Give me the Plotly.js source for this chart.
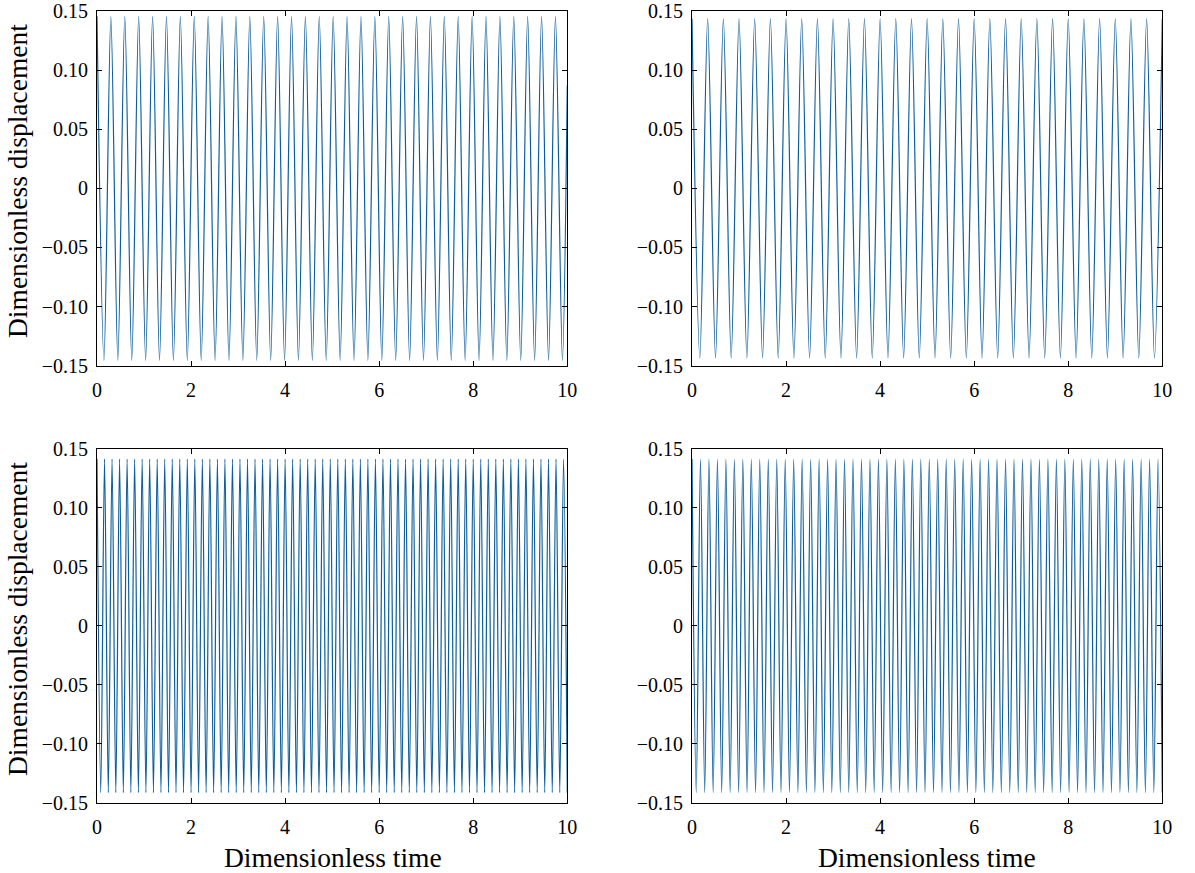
<!DOCTYPE html>
<html>
<head>
<meta charset="utf-8">
<script src="https://cdn.plot.ly/plotly-3.0.1.min.js"></script>
<style>html,body{margin:0;padding:0;background:#fff;}#chart{width:1195px;height:873px;}</style>
</head>
<body>
<div id="chart"></div>
<script>
// ---- data (peak / trough instants and values) ----
const xTicks = [0, 2, 4, 6, 8, 10];
const yTicks = [-0.15, -0.10, -0.05, 0, 0.05, 0.10, 0.15];
const yTickText = ['\u22120.15', '\u22120.10', '\u22120.05', '0', '0.05', '0.10', '0.15'];
const xTitle = 'Dimensionless time';
const yTitle = 'Dimensionless displacement';

// top-left panel
const tlTime = [0,0.148,0.295,0.443,0.591,0.739,0.886,1.034,1.182,1.329,
  1.477,1.625,1.772,1.920,2.068,2.216,2.363,2.511,2.659,2.806,
  2.954,3.102,3.249,3.397,3.545,3.693,3.840,3.988,4.136,4.283,
  4.431,4.579,4.726,4.874,5.022,5.170,5.317,5.465,5.613,5.760,
  5.908,6.056,6.203,6.351,6.499,6.647,6.794,6.942,7.090,7.237,
  7.385,7.533,7.680,7.828,7.976,8.124,8.271,8.419,8.567,8.714,
  8.862,9.010,9.157,9.305,9.453,9.601,9.748,9.896,10.0];
const tlDisp = [0.1455,-0.1455,0.1455,-0.1455,0.1455,-0.1455,0.1455,-0.1455,0.1455,-0.1455,
  0.1455,-0.1455,0.1455,-0.1455,0.1455,-0.1455,0.1455,-0.1455,0.1455,-0.1455,
  0.1455,-0.1455,0.1455,-0.1455,0.1455,-0.1455,0.1455,-0.1455,0.1455,-0.1455,
  0.1455,-0.1455,0.1455,-0.1455,0.1455,-0.1455,0.1455,-0.1455,0.1455,-0.1455,
  0.1455,-0.1455,0.1455,-0.1455,0.1455,-0.1455,0.1455,-0.1455,0.1455,-0.1455,
  0.1455,-0.1455,0.1455,-0.1455,0.1455,-0.1455,0.1455,-0.1455,0.1455,-0.1455,
  0.1455,-0.1455,0.1455,-0.1455,0.1455,-0.1455,0.1455,-0.1455,0.087];

// top-right panel
const trTime = [0,0.167,0.333,0.5,0.667,0.833,1,1.167,1.333,1.5,
  1.667,1.833,2,2.167,2.333,2.5,2.667,2.833,3,3.167,
  3.333,3.5,3.667,3.833,4,4.167,4.333,4.5,4.667,4.833,
  5,5.167,5.333,5.5,5.667,5.833,6,6.167,6.333,6.5,
  6.667,6.833,7,7.167,7.333,7.5,7.667,7.833,8,8.167,
  8.333,8.5,8.667,8.833,9,9.167,9.333,9.5,9.667,9.833,10];
const trDisp = [0.1435,-0.1435,0.1435,-0.1435,0.1435,-0.1435,0.1435,-0.1435,0.1435,-0.1435,
  0.1435,-0.1435,0.1435,-0.1435,0.1435,-0.1435,0.1435,-0.1435,0.1435,-0.1435,
  0.1435,-0.1435,0.1435,-0.1435,0.1435,-0.1435,0.1435,-0.1435,0.1435,-0.1435,
  0.1435,-0.1435,0.1435,-0.1435,0.1435,-0.1435,0.1435,-0.1435,0.1435,-0.1435,
  0.1435,-0.1435,0.1435,-0.1435,0.1435,-0.1435,0.1435,-0.1435,0.1435,-0.1435,
  0.1435,-0.1435,0.1435,-0.1435,0.1435,-0.1435,0.1435,-0.1435,0.1435,-0.1435,0.1435];

// bottom-left panel
const blTime = [0,0.08,0.16,0.24,0.32,0.4,0.48,0.56,0.64,0.72,0.8,0.88,0.96,1.04,1.12,1.2,1.28,1.36,1.44,1.52,1.6,1.68,1.76,1.84,1.92,
  2,2.08,2.16,2.24,2.32,2.4,2.48,2.56,2.64,2.72,2.8,2.88,2.96,3.04,3.12,3.2,3.28,3.36,3.44,3.52,3.6,3.68,3.76,3.84,3.92,
  4,4.08,4.16,4.24,4.32,4.4,4.48,4.56,4.64,4.72,4.8,4.88,4.96,5.04,5.12,5.2,5.28,5.36,5.44,5.52,5.6,5.68,5.76,5.84,5.92,
  6,6.08,6.16,6.24,6.32,6.4,6.48,6.56,6.64,6.72,6.8,6.88,6.96,7.04,7.12,7.2,7.28,7.36,7.44,7.52,7.6,7.68,7.76,7.84,7.92,
  8,8.08,8.16,8.24,8.32,8.4,8.48,8.56,8.64,8.72,8.8,8.88,8.96,9.04,9.12,9.2,9.28,9.36,9.44,9.52,9.6,9.68,9.76,9.84,9.92,
  10];
const blDisp = [0.1415,-0.1415,0.1415,-0.1415,0.1415,-0.1415,0.1415,-0.1415,0.1415,-0.1415,
  0.1415,-0.1415,0.1415,-0.1415,0.1415,-0.1415,0.1415,-0.1415,0.1415,-0.1415,
  0.1415,-0.1415,0.1415,-0.1415,0.1415,-0.1415,0.1415,-0.1415,0.1415,-0.1415,
  0.1415,-0.1415,0.1415,-0.1415,0.1415,-0.1415,0.1415,-0.1415,0.1415,-0.1415,
  0.1415,-0.1415,0.1415,-0.1415,0.1415,-0.1415,0.1415,-0.1415,0.1415,-0.1415,
  0.1415,-0.1415,0.1415,-0.1415,0.1415,-0.1415,0.1415,-0.1415,0.1415,-0.1415,
  0.1415,-0.1415,0.1415,-0.1415,0.1415,-0.1415,0.1415,-0.1415,0.1415,-0.1415,
  0.1415,-0.1415,0.1415,-0.1415,0.1415,-0.1415,0.1415,-0.1415,0.1415,-0.1415,
  0.1415,-0.1415,0.1415,-0.1415,0.1415,-0.1415,0.1415,-0.1415,0.1415,-0.1415,
  0.1415,-0.1415,0.1415,-0.1415,0.1415,-0.1415,0.1415,-0.1415,0.1415,-0.1415,
  0.1415,-0.1415,0.1415,-0.1415,0.1415,-0.1415,0.1415,-0.1415,0.1415,-0.1415,
  0.1415,-0.1415,0.1415,-0.1415,0.1415,-0.1415,0.1415,-0.1415,0.1415,-0.1415,
  0.1415,-0.1415,0.1415,-0.1415,0.1415,-0.1415];

// bottom-right panel
const brTime = [0,0.090,0.180,0.270,0.360,0.450,0.541,0.631,0.721,0.811,
  0.901,0.991,1.081,1.171,1.261,1.351,1.441,1.532,1.622,1.712,
  1.802,1.892,1.982,2.072,2.162,2.252,2.342,2.432,2.523,2.613,
  2.703,2.793,2.883,2.973,3.063,3.153,3.243,3.333,3.423,3.514,
  3.604,3.694,3.784,3.874,3.964,4.054,4.144,4.234,4.324,4.414,
  4.505,4.595,4.685,4.775,4.865,4.955,5.045,5.135,5.225,5.315,
  5.405,5.495,5.586,5.676,5.766,5.856,5.946,6.036,6.126,6.216,
  6.306,6.396,6.486,6.577,6.667,6.757,6.847,6.937,7.027,7.117,
  7.207,7.297,7.387,7.477,7.568,7.658,7.748,7.838,7.928,8.018,
  8.108,8.198,8.288,8.378,8.468,8.559,8.649,8.739,8.829,8.919,
  9.009,9.099,9.189,9.279,9.369,9.459,9.550,9.640,9.730,9.820,
  9.910,10.0];
const brDisp = [0.1415,-0.1415,0.1415,-0.1415,0.1415,-0.1415,0.1415,-0.1415,0.1415,-0.1415,
  0.1415,-0.1415,0.1415,-0.1415,0.1415,-0.1415,0.1415,-0.1415,0.1415,-0.1415,
  0.1415,-0.1415,0.1415,-0.1415,0.1415,-0.1415,0.1415,-0.1415,0.1415,-0.1415,
  0.1415,-0.1415,0.1415,-0.1415,0.1415,-0.1415,0.1415,-0.1415,0.1415,-0.1415,
  0.1415,-0.1415,0.1415,-0.1415,0.1415,-0.1415,0.1415,-0.1415,0.1415,-0.1415,
  0.1415,-0.1415,0.1415,-0.1415,0.1415,-0.1415,0.1415,-0.1415,0.1415,-0.1415,
  0.1415,-0.1415,0.1415,-0.1415,0.1415,-0.1415,0.1415,-0.1415,0.1415,-0.1415,
  0.1415,-0.1415,0.1415,-0.1415,0.1415,-0.1415,0.1415,-0.1415,0.1415,-0.1415,
  0.1415,-0.1415,0.1415,-0.1415,0.1415,-0.1415,0.1415,-0.1415,0.1415,-0.1415,
  0.1415,-0.1415,0.1415,-0.1415,0.1415,-0.1415,0.1415,-0.1415,0.1415,-0.1415,
  0.1415,-0.1415,0.1415,-0.1415,0.1415,-0.1415,0.1415,-0.1415,0.1415,-0.1415,
  0.1415,-0.1415];

// ---- styling ----
const W = 1195, H = 873;
const FONT = 'Liberation Serif, Times New Roman, serif';
const LINE = {color: '#0b5d9c', width: 1.2, shape: 'spline', smoothing: 0.85};

function trace(x, y, xa, ya) {
  return {x: x, y: y, xaxis: xa, yaxis: ya, type: 'scatter', mode: 'lines',
          line: LINE, hoverinfo: 'skip', showlegend: false};
}

const xDomL = [97 / W, 567.3 / W], xDomR = [692 / W, 1162.3 / W];
const yDomT = [1 - 365.7 / H, 1 - 11 / H], yDomB = [1 - 802.7 / H, 1 - 449 / H];

function xAxis(dom, anchor) {
  return {domain: dom, anchor: anchor, range: [0, 10], tickvals: xTicks,
    ticktext: xTicks.map(String), showline: true, linecolor: '#000', linewidth: 1,
    mirror: 'ticks', ticks: 'inside', ticklen: 5, tickwidth: 1, tickcolor: '#000',
    showgrid: false, zeroline: false, ticklabelstandoff: 6,
    tickfont: {family: FONT, size: 20, color: '#000'}};
}
function yAxis(dom, anchor) {
  return {domain: dom, anchor: anchor, range: [-0.15, 0.15], tickvals: yTicks,
    ticktext: yTickText, showline: true, linecolor: '#000', linewidth: 1,
    mirror: 'ticks', ticks: 'inside', ticklen: 5, tickwidth: 1, tickcolor: '#000',
    showgrid: false, zeroline: false, ticklabelstandoff: 4,
    tickfont: {family: FONT, size: 20, color: '#000'}};
}

const data = [
  trace(tlTime, tlDisp, 'x', 'y'),
  trace(trTime, trDisp, 'x2', 'y2'),
  trace(blTime, blDisp, 'x3', 'y3'),
  trace(brTime, brDisp, 'x4', 'y4')
];

const titleFont = {family: FONT, size: 27.5, color: '#000'};
const layout = {
  width: W, height: H,
  margin: {l: 0, r: 0, t: 0, b: 0},
  paper_bgcolor: '#fff', plot_bgcolor: '#fff',
  showlegend: false,
  xaxis: xAxis(xDomL, 'y'), yaxis: yAxis(yDomT, 'x'),
  xaxis2: xAxis(xDomR, 'y2'), yaxis2: yAxis(yDomT, 'x2'),
  xaxis3: xAxis(xDomL, 'y3'), yaxis3: yAxis(yDomB, 'x3'),
  xaxis4: xAxis(xDomR, 'y4'), yaxis4: yAxis(yDomB, 'x4'),
  annotations: [
    {text: yTitle, xref: 'paper', yref: 'paper', x: 17 / W, y: 1 - 181 / H,
     xanchor: 'center', yanchor: 'middle', textangle: -90, showarrow: false, font: titleFont},
    {text: yTitle, xref: 'paper', yref: 'paper', x: 17 / W, y: 1 - 619 / H,
     xanchor: 'center', yanchor: 'middle', textangle: -90, showarrow: false, font: titleFont},
    {text: xTitle, xref: 'paper', yref: 'paper', x: 333 / W, y: 1 - 857 / H,
     xanchor: 'center', yanchor: 'middle', showarrow: false, font: titleFont},
    {text: xTitle, xref: 'paper', yref: 'paper', x: 927 / W, y: 1 - 857 / H,
     xanchor: 'center', yanchor: 'middle', showarrow: false, font: titleFont}
  ]
};

Plotly.newPlot('chart', data, layout, {staticPlot: true, displayModeBar: false});
</script>
</body>
</html>
